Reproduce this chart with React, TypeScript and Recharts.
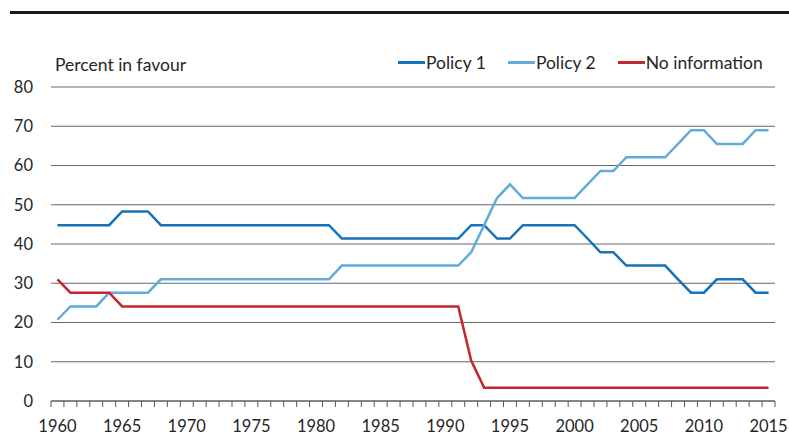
import React from "react";
import { LineChart, Line, XAxis, YAxis, CartesianGrid, Legend } from "recharts";

// survey years, one point per year
const years = [
  1960, 1961, 1962, 1963, 1964, 1965, 1966, 1967, 1968, 1969,
  1970, 1971, 1972, 1973, 1974, 1975, 1976, 1977, 1978, 1979,
  1980, 1981, 1982, 1983, 1984, 1985, 1986, 1987, 1988, 1989,
  1990, 1991, 1992, 1993, 1994, 1995, 1996, 1997, 1998, 1999,
  2000, 2001, 2002, 2003, 2004, 2005, 2006, 2007, 2008, 2009,
  2010, 2011, 2012, 2013, 2014, 2015,
];

const policy1 = [
  44.8, 44.8, 44.8, 44.8, 44.8, 48.3, 48.3, 48.3, 44.8, 44.8,
  44.8, 44.8, 44.8, 44.8, 44.8, 44.8, 44.8, 44.8, 44.8, 44.8,
  44.8, 44.8, 41.4, 41.4, 41.4, 41.4, 41.4, 41.4, 41.4, 41.4,
  41.4, 41.4, 44.8, 44.8, 41.4, 41.4, 44.8, 44.8, 44.8, 44.8,
  44.8, 41.4, 37.9, 37.9, 34.5, 34.5, 34.5, 34.5, 31.0, 27.6,
  27.6, 31.0, 31.0, 31.0, 27.6, 27.6,
];

const policy2 = [
  20.7, 24.1, 24.1, 24.1, 27.6, 27.6, 27.6, 27.6, 31.0, 31.0,
  31.0, 31.0, 31.0, 31.0, 31.0, 31.0, 31.0, 31.0, 31.0, 31.0,
  31.0, 31.0, 34.5, 34.5, 34.5, 34.5, 34.5, 34.5, 34.5, 34.5,
  34.5, 34.5, 37.9, 44.8, 51.7, 55.2, 51.7, 51.7, 51.7, 51.7,
  51.7, 55.2, 58.6, 58.6, 62.1, 62.1, 62.1, 62.1, 65.5, 69.0,
  69.0, 65.5, 65.5, 65.5, 69.0, 69.0,
];

const noInformation = [
  31.0, 27.6, 27.6, 27.6, 27.6, 24.1, 24.1, 24.1, 24.1, 24.1,
  24.1, 24.1, 24.1, 24.1, 24.1, 24.1, 24.1, 24.1, 24.1, 24.1,
  24.1, 24.1, 24.1, 24.1, 24.1, 24.1, 24.1, 24.1, 24.1, 24.1,
  24.1, 24.1, 10.3, 3.4, 3.4, 3.4, 3.4, 3.4, 3.4, 3.4,
  3.4, 3.4, 3.4, 3.4, 3.4, 3.4, 3.4, 3.4, 3.4, 3.4,
  3.4, 3.4, 3.4, 3.4, 3.4, 3.4,
];

const yTicks = [0, 10, 20, 30, 40, 50, 60, 70, 80];

const series = [
  { key: "policy1", name: "Policy 1", color: "#1673b9" },
  { key: "policy2", name: "Policy 2", color: "#62acda" },
  { key: "noInfo", name: "No information", color: "#c1272d" },
];

const data = years.map((year, i) => ({
  year,
  policy1: policy1[i],
  policy2: policy2[i],
  noInfo: noInformation[i],
}));

// tick marks sit between years, labels on every fifth year
const xTicks: number[] = [];
for (let i = 0; i <= years.length * 2; i++) xTicks.push(years[0] - 0.5 + i * 0.5);

const TEXT = "#262626";
const FONT = "Lato, 'Noto Sans', sans-serif";

function YearTick(props: any) {
  const { x, y, payload } = props;
  const v = payload.value;
  if (v % 1 !== 0) {
    return <line x1={x} x2={x} y1={y} y2={y + 6} stroke="#595959" strokeWidth={1} />;
  }
  if (v % 5 === 0) {
    return (
      <text x={x} y={y + 31} textAnchor="middle" fill={TEXT} fontSize={16.5}>
        {v}
      </text>
    );
  }
  return <g />;
}

function renderLegend() {
  return (
    <div style={{ display: "flex", alignItems: "center", fontSize: 17.5, color: TEXT }}>
      {series.map((s) => (
        <div key={s.key} style={{ display: "flex", alignItems: "center", marginRight: 22 }}>
          <div style={{ width: 27, height: 3, background: s.color }} />
          <span style={{ marginLeft: 1 }}>{s.name}</span>
        </div>
      ))}
    </div>
  );
}

export default function App() {
  return (
    <div
      style={{
        position: "absolute",
        left: 0,
        top: 0,
        width: 789,
        height: 435,
        background: "#fff",
        fontFamily: FONT,
      }}
    >
      <div style={{ position: "absolute", left: 10, top: 11, width: 779, height: 3, background: "#1a1a1a" }} />
      <div style={{ position: "absolute", left: 55, top: 54, fontSize: 17.5, color: TEXT }}>Percent in favour</div>
      <LineChart width={789} height={435} data={data} margin={{ top: 87, right: 14, bottom: 0, left: 0 }}>
        <CartesianGrid vertical={false} stroke="#666" />
        <XAxis
          dataKey="year"
          type="number"
          domain={[1959.5, 2015.5]}
          ticks={xTicks}
          interval={0}
          tick={<YearTick />}
          tickLine={false}
          tickSize={0}
          tickMargin={0}
          height={34}
          axisLine={{ stroke: "#595959" }}
        />
        <YAxis
          domain={[0, 80]}
          ticks={yTicks}
          width={51}
          axisLine={false}
          tickLine={false}
          tickSize={0}
          tickMargin={18}
          tick={{ fill: TEXT, fontSize: 16.5 }}
        />
        <Legend
          verticalAlign="middle"
          align="center"
          layout="horizontal"
          wrapperStyle={{ top: 52, left: 398, width: 400 }}
          content={renderLegend}
        />
        {series.map((s) => (
          <Line
            key={s.key}
            type="linear"
            dataKey={s.key}
            name={s.name}
            stroke={s.color}
            strokeWidth={2.5}
            dot={false}
            isAnimationActive={false}
          />
        ))}
      </LineChart>
    </div>
  );
}
